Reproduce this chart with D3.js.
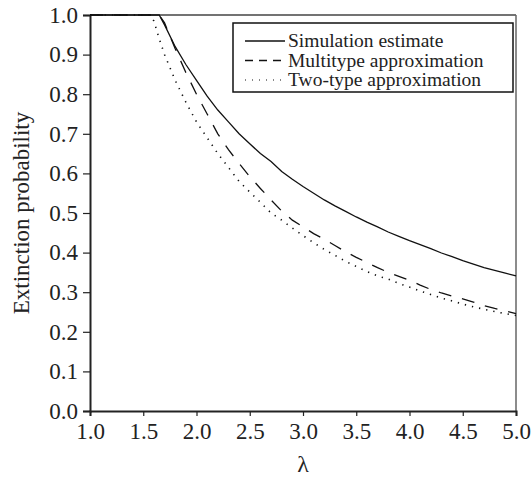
<!DOCTYPE html>
<html lang="en">
<head>
<meta charset="UTF-8">
<title>Extinction probability</title>
<style>
  body { margin: 0; background: #fff; }
  text { font-family: "Liberation Serif", "Times New Roman", serif; fill: #222; }
</style>
<script src="https://d3js.org/d3.v7.min.js"></script>
</head>
<body>
<div id="chart"></div>
<script>
  // lambda grid and the three curves
  var lambda = [1.0, 1.1, 1.2, 1.3, 1.4, 1.5, 1.56, 1.6, 1.65, 1.7, 1.8, 1.9, 2.0, 2.1, 2.2, 2.3, 2.4, 2.5, 2.6, 2.7, 2.8, 2.9,
                3.0, 3.1, 3.2, 3.3, 3.4, 3.5, 3.6, 3.7, 3.8, 3.9, 4.0, 4.1, 4.2, 4.3, 4.4, 4.5, 4.6, 4.7, 4.8, 4.9, 5.0];
  var simulation = [1, 1, 1, 1, 1, 1, 1, 1, 1, 0.975, 0.92, 0.875, 0.835, 0.795, 0.76, 0.73, 0.70, 0.675, 0.65, 0.63, 0.605, 0.585,
                    0.567, 0.55, 0.533, 0.518, 0.504, 0.49, 0.477, 0.465, 0.452, 0.441, 0.43, 0.42, 0.41, 0.399, 0.39, 0.38, 0.371, 0.362, 0.355, 0.348, 0.341];
  var multitype = [1, 1, 1, 1, 1, 1, 1, 1, 1, 0.98, 0.915, 0.855, 0.80, 0.75, 0.70, 0.66, 0.625, 0.592, 0.562, 0.533, 0.505, 0.482,
                   0.465, 0.448, 0.434, 0.418, 0.402, 0.388, 0.375, 0.362, 0.35, 0.34, 0.33, 0.318, 0.307, 0.298, 0.29, 0.283, 0.275, 0.266, 0.259, 0.253, 0.246];
  var twotype = [1, 1, 1, 1, 1, 1, 1, 0.985, 0.94, 0.90, 0.835, 0.78, 0.73, 0.69, 0.65, 0.615, 0.58, 0.553, 0.527, 0.50, 0.482, 0.462,
                 0.443, 0.425, 0.408, 0.393, 0.378, 0.365, 0.352, 0.341, 0.333, 0.322, 0.313, 0.303, 0.294, 0.285, 0.278, 0.27, 0.263, 0.257, 0.251, 0.246, 0.241];
  var xTicks = [1.0, 1.5, 2.0, 2.5, 3.0, 3.5, 4.0, 4.5, 5.0];
  var yTicks = [0, 0.1, 0.2, 0.3, 0.4, 0.5, 0.6, 0.7, 0.8, 0.9, 1.0];
  var seriesNames = ["Simulation estimate", "Multitype approximation", "Two-type approximation"];

  var width = 531, height = 479;
  var margin = { top: 15, right: 15, bottom: 68, left: 90 };
  var w = width - margin.left - margin.right;
  var h = height - margin.top - margin.bottom;

  var svg = d3.select("#chart").append("svg")
    .attr("width", width)
    .attr("height", height);

  var g = svg.append("g").attr("transform", "translate(" + margin.left + "," + margin.top + ")");

  var x = d3.scaleLinear().domain([1, 5]).range([0, w]);
  var y = d3.scaleLinear().domain([0, 1]).range([h, 0]);

  // frame top and right
  g.append("line").attr("x1", 0).attr("x2", w).attr("y1", 0).attr("y2", 0)
    .attr("stroke", "#444").attr("stroke-width", 1.5);
  g.append("line").attr("x1", w).attr("x2", w).attr("y1", 0).attr("y2", h)
    .attr("stroke", "#666").attr("stroke-width", 1.5);

  // axes
  var xAxis = g.append("g").attr("transform", "translate(0," + h + ")")
    .call(d3.axisBottom(x).tickValues(xTicks).tickFormat(d3.format(".1f")).tickSizeOuter(0).tickSize(5).tickPadding(7));
  var yAxis = g.append("g")
    .call(d3.axisLeft(y).tickValues(yTicks).tickFormat(d3.format(".1f")).tickSizeOuter(0).tickSize(7).tickPadding(5));

  [xAxis, yAxis].forEach(function(a) {
    a.select(".domain").attr("stroke", "#222").attr("stroke-width", 2);
    a.selectAll(".tick line").attr("stroke", "#222").attr("stroke-width", 1.2);
    a.selectAll("text").attr("font-size", 23).attr("fill", "#222")
      .style("font-family", "'Liberation Serif', serif");
  });

  // axis titles
  svg.append("text")
    .attr("x", margin.left + x(3)).attr("y", 472)
    .attr("text-anchor", "middle").attr("font-size", 24)
    .text("λ");
  svg.append("text")
    .attr("transform", "translate(29," + (margin.top + h / 2) + ") rotate(-90)")
    .attr("text-anchor", "middle").attr("font-size", 23)
    .text("Extinction probability");

  // curves
  var dashes = [null, "13,11", "1.3,6"];
  var data = [simulation, multitype, twotype];
  var line = d3.line()
    .x(function(d, i) { return x(lambda[i]); })
    .y(function(d) { return y(d); });

  data.forEach(function(s, k) {
    g.append("path")
      .datum(s)
      .attr("d", line)
      .attr("fill", "none")
      .attr("stroke", "#111")
      .attr("stroke-width", k === 2 ? 1.6 : 1.3)
      .attr("stroke-dasharray", dashes[k]);
  });

  // legend
  var lg = svg.append("g").attr("transform", "translate(233,23)");
  lg.append("rect")
    .attr("width", 280).attr("height", 69)
    .attr("fill", "#fff").attr("stroke", "#111").attr("stroke-width", 1.5);

  seriesNames.forEach(function(name, k) {
    var base = 24 + k * 19.5;
    lg.append("line")
      .attr("x1", 12).attr("x2", 52).attr("y1", base - 6).attr("y2", base - 6)
      .attr("stroke", "#111")
      .attr("stroke-width", k === 2 ? 1.2 : 1.3)
      .attr("stroke-dasharray", k === 0 ? null : (k === 1 ? "8,6" : "1,6"));
    lg.append("text")
      .attr("x", 55).attr("y", base)
      .attr("font-size", 19.5)
      .text(name);
  });
</script>
</body>
</html>
